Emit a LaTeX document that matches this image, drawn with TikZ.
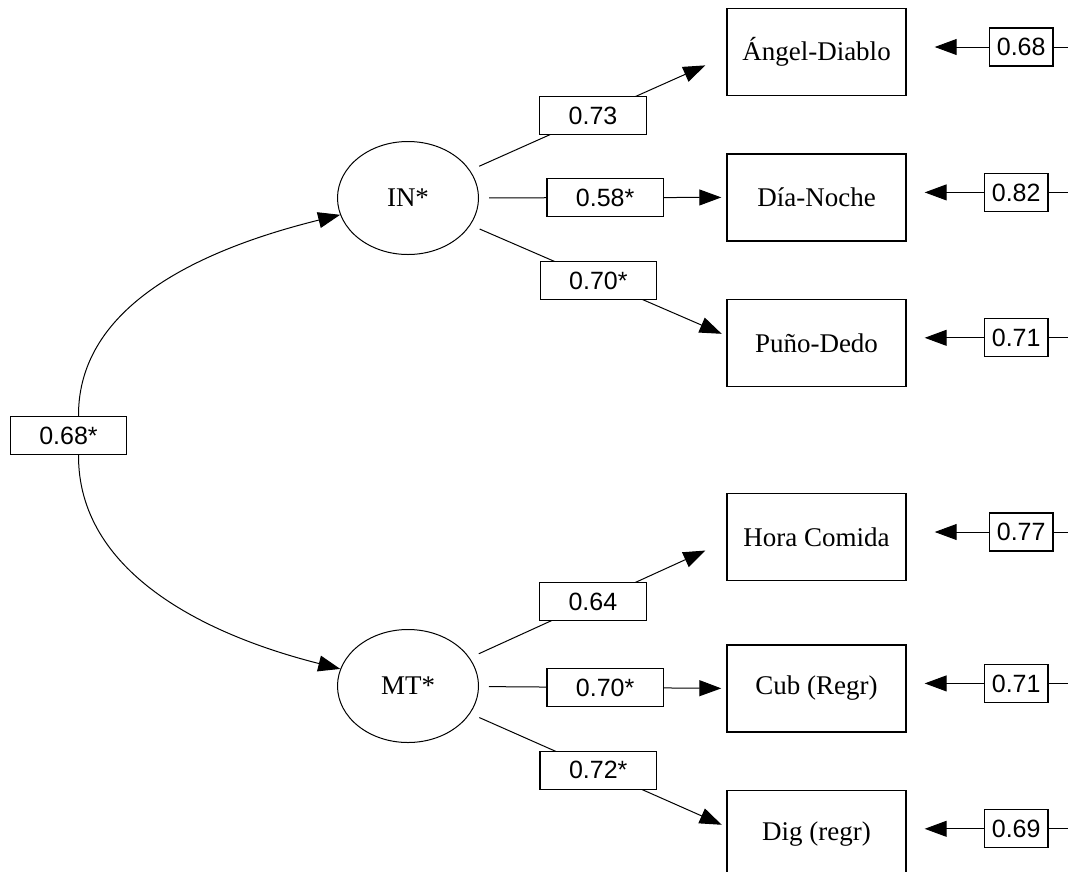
\documentclass[tikz,border=0pt]{standalone}
\usepackage{fontspec}
\setmainfont{Liberation Serif}
\newfontfamily\numfont{Liberation Sans}
\usetikzlibrary{positioning, shapes.geometric, arrows.meta}

\tikzset{
  latent/.style={draw, ellipse, line width=1pt, minimum width=141pt, minimum height=113pt, inner sep=0pt, font=\fontsize{27}{30}\selectfont},
  indic/.style={draw, line width=1.4pt, minimum width=179pt, minimum height=87pt, inner sep=0pt, font=\fontsize{27}{30}\selectfont},
  coef/.style={draw, fill=white, line width=1.3pt, minimum height=38pt, inner xsep=29pt, inner ysep=0pt, font=\numfont\fontsize{25}{28}\selectfont},
  errbox/.style={coef, inner xsep=7.5pt, yshift=5pt},
  load/.style={-{Triangle[length=22pt,width=16pt]}, line width=1pt, shorten <=10pt},
  covar/.style={-{Triangle[length=22pt,width=16pt]}, line width=1pt},
}

\begin{document}
\begin{tikzpicture}[x=1pt, y=-1pt]
  \useasboundingbox (0,0) rectangle (1068,871);
  \coordinate (rim) at (1068,0);

  % Latent factors
  \node[latent] (IN) at (408,198) {IN*};
  \node[latent] (MT) at (408,686) {MT*};

  % Observed tasks
  \node[indic] (ang) at (816.5,52) {Ángel-Diablo};
  \node[indic, below=57pt of ang] (dia) {Día-Noche};
  \node[indic, below=57pt of dia] (pun) {Puño-Dedo};
  \node[indic] (hora) at (816.5,537) {Hora Comida};
  \node[indic, below=63pt of hora] (cub) {Cub (Regr)};
  \node[indic, below=57pt of cub] (dig) {Dig (regr)};

  % Error terms
  \node[errbox, right=82pt of ang] (e1) {0.68};
  \node[errbox, right=77pt of dia] (e2) {0.82};
  \node[errbox, right=77pt of pun] (e3) {0.71};
  \node[errbox, right=82pt of hora] (e4) {0.77};
  \node[errbox, right=77pt of cub] (e5) {0.71};
  \node[errbox, right=77pt of dig] (e6) {0.69};

  % Loadings
  \draw[load, shorten >=23pt] (IN) -- node[coef, pos=0.48] {0.73} ([yshift=-4pt]ang.west);
  \draw[load, shorten >=5pt] (IN) -- node[coef, pos=0.51] {0.58*} (dia.west);
  \draw[load, shorten >=5pt] (IN) -- node[coef, pos=0.5] {0.70*} ([yshift=7pt]pun.west);
  \draw[load, shorten >=23pt] (MT) -- node[coef, pos=0.48] {0.64} ([yshift=-4pt]hora.west);
  \draw[load, shorten >=5pt] (MT) -- node[coef, pos=0.51] {0.70*} (cub.west);
  \draw[load, shorten >=5pt] (MT) -- node[coef, pos=0.5] {0.72*} ([yshift=7pt]dig.west);

  % Error arrows
  \draw[covar, shorten >=28pt] (e1) -- (e1 -| ang.east);
  \draw[covar, shorten >=18pt] (e2) -- (e2 -| dia.east);
  \draw[covar, shorten >=18pt] (e3) -- (e3 -| pun.east);
  \draw[covar, shorten >=28pt] (e4) -- (e4 -| hora.east);
  \draw[covar, shorten >=18pt] (e5) -- (e5 -| cub.east);
  \draw[covar, shorten >=18pt] (e6) -- (e6 -| dig.east);
  \foreach \e in {e1,e2,e3,e4,e5,e6}
    \draw[line width=1pt] (\e.east) -- (\e -| rim);

  % Factor correlation
  \node[coef] (cov) at (68.5,435.5) {0.68*};
  \draw[covar] ([xshift=10pt]cov.north) .. controls (78,305) and (202,249) .. (IN);
  \draw[covar] ([xshift=10pt]cov.south) .. controls (78,571) and (202,634) .. (MT);
\end{tikzpicture}
\end{document}
